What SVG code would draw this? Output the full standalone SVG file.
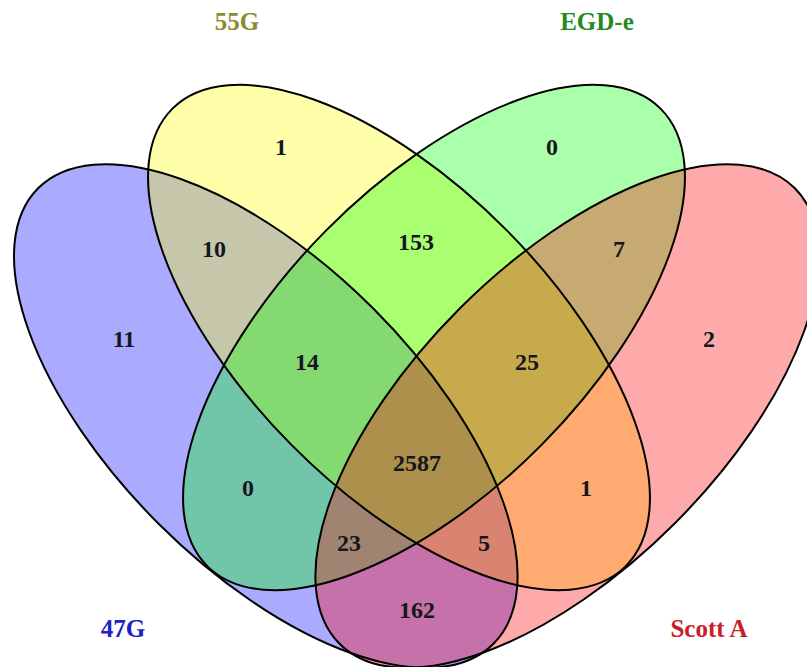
<svg xmlns="http://www.w3.org/2000/svg" width="807" height="667" viewBox="0 0 807 667">
<style>
.fill{stroke:none;fill-opacity:0.3333}
.outline{fill:none;stroke:#000;stroke-width:2}
.lbl{font-family:"Liberation Serif","Times New Roman",serif;font-weight:bold;font-size:25px;text-anchor:middle}
.num{font-family:"Liberation Serif","Times New Roman",serif;font-weight:bold;font-size:24px;text-anchor:middle;fill:#161620}
</style>
<rect width="807" height="667" fill="#fff"/>
<g id="set-47G">
<ellipse class="fill" cx="265.8" cy="416" rx="322" ry="152" transform="rotate(45 265.8 416)" fill="#0000ff"/>
<text class="lbl" x="123" y="637" fill="#2020c8">47G</text>
</g>
<g id="set-55G">
<ellipse class="fill" cx="399" cy="337.5" rx="322" ry="152" transform="rotate(45.3 399 337.5)" fill="#ffff00"/>
<text class="lbl" x="237" y="30" fill="#8b8b2d">55G</text>
</g>
<g id="set-EGD-e">
<ellipse class="fill" cx="434" cy="337.5" rx="322" ry="152" transform="rotate(-45.3 434 337.5)" fill="#00ff00"/>
<text class="lbl" x="597" y="30" fill="#228b22">EGD-e</text>
</g>
<g id="set-ScottA">
<ellipse class="fill" cx="567.2" cy="416" rx="322" ry="152" transform="rotate(-45 567.2 416)" fill="#ff0000"/>
<text class="lbl" x="709" y="637" fill="#c8202a">Scott A</text>
</g>
<g id="connectors">
<ellipse class="outline" cx="265.8" cy="416" rx="322" ry="152" transform="rotate(45 265.8 416)"/>
<ellipse class="outline" cx="399" cy="337.5" rx="322" ry="152" transform="rotate(45.3 399 337.5)"/>
<ellipse class="outline" cx="434" cy="337.5" rx="322" ry="152" transform="rotate(-45.3 434 337.5)"/>
<ellipse class="outline" cx="567.2" cy="416" rx="322" ry="152" transform="rotate(-45 567.2 416)"/>
</g>
<g id="counts">
<text class="num" x="281" y="155">1</text>
<text class="num" x="552" y="155">0</text>
<text class="num" x="214" y="256.5">10</text>
<text class="num" x="416" y="249.5">153</text>
<text class="num" x="619" y="256.5">7</text>
<text class="num" x="124" y="347">11</text>
<text class="num" x="307" y="370">14</text>
<text class="num" x="527" y="370">25</text>
<text class="num" x="709" y="347">2</text>
<text class="num" x="417" y="470.5">2587</text>
<text class="num" x="248" y="495.5">0</text>
<text class="num" x="586" y="495.5">1</text>
<text class="num" x="349" y="550.5">23</text>
<text class="num" x="484" y="550.5">5</text>
<text class="num" x="417" y="617.5">162</text>
</g>
</svg>
